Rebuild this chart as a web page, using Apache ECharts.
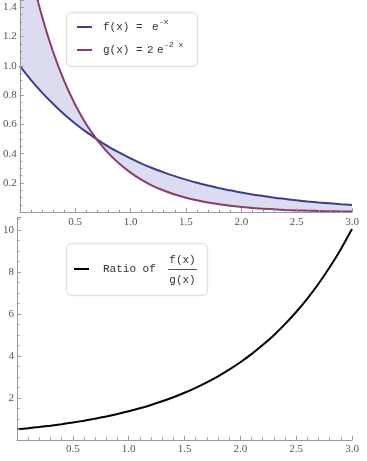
<!DOCTYPE html>
<html><head><meta charset="utf-8">
<script src="https://cdn.jsdelivr.net/npm/echarts@6/dist/echarts.min.js"></script>
<style>html,body{margin:0;padding:0;background:#fff}#c{width:367px;height:461px}</style>
</head><body><div id="c"></div>
<script>
// x samples
const xs = [0,0.1,0.2,0.3,0.4,0.5,0.6,0.69,0.7,0.8,0.9,1.0,1.1,1.2,1.3,1.4,1.5,1.6,1.7,1.8,1.9,2.0,2.1,2.2,2.3,2.4,2.5,2.6,2.7,2.8,2.9,3.0];
// f(x) = e^-x
const fVals = [1.000,0.905,0.819,0.741,0.670,0.607,0.549,0.502,0.497,0.449,0.407,0.368,0.333,0.301,0.273,0.247,0.223,0.202,0.183,0.165,0.150,0.135,0.122,0.111,0.100,0.091,0.082,0.074,0.067,0.061,0.055,0.050];
// g(x) = 2 e^-2x
const gVals = [2.000,1.637,1.341,1.098,0.899,0.736,0.602,0.503,0.493,0.404,0.331,0.271,0.222,0.181,0.149,0.122,0.100,0.082,0.067,0.055,0.045,0.037,0.030,0.025,0.020,0.016,0.013,0.011,0.009,0.007,0.006,0.005];
// ratio f/g
const rVals = [0.500,0.553,0.611,0.675,0.746,0.824,0.911,0.997,1.007,1.113,1.230,1.359,1.502,1.660,1.835,2.028,2.241,2.477,2.737,3.025,3.343,3.695,4.083,4.513,4.987,5.512,6.091,6.732,7.439,8.222,9.086,10.043];
const xTicks = [0.5,1.0,1.5,2.0,2.5,3.0];
const yTopTicks = [0.2,0.4,0.6,0.8,1.0,1.2,1.4];
const yBotTicks = [2,4,6,8,10];

const pairs = (ys) => xs.map((x,i)=>[x, ys[i]]);
const lowVals = fVals.map((f,i)=>Math.min(f,gVals[i]));
const highVals = fVals.map((f,i)=>Math.max(f,gVals[i]));

const labelFont = {fontFamily:'Liberation Serif', fontSize:11, color:'#555'};
const axCol = '#999';
function xAxisDef(gi){
  return {type:'value', gridIndex:gi, min:0, max:3, interval:0.5, z:10,
    axisLine:{show:true, onZero:false, lineStyle:{color:axCol,width:1}},
    axisTick:{show:true, inside:true, length:4, lineStyle:{color:axCol}},
    minorTick:{show:true, splitNumber:5, length:2.5, lineStyle:{color:axCol}},
    splitLine:{show:false},
    axisLabel:Object.assign({margin:4, formatter:(v)=> xTicks.some(t=>Math.abs(t-v)<1e-6)? v.toFixed(1):''}, labelFont)};
}
const mono = 'Liberation Mono';
const txtCol = '#333';
function t(x,y,text,size,extra){
  return Object.assign({type:'text', x:x, y:y, style:{text:text, font:(size||11)+'px "'+mono+'"', fill:txtCol, verticalAlign:'middle', align:'left'}}, extra||{});
}
const chart = echarts.init(document.getElementById('c'), null, {renderer:'canvas'});
chart.setOption({
  animation:false,
  grid:[{left:15.5, right:15, top:0, height:212.3},
        {left:15.5, right:15, top:217.4, height:222.4}],
  xAxis:[xAxisDef(0), xAxisDef(1)],
  yAxis:[
    {type:'value', gridIndex:0, min:0, max:1.45, interval:0.2, z:10,
     axisLine:{show:true, lineStyle:{color:axCol}},
     axisTick:{show:true, inside:true, length:4, lineStyle:{color:axCol}},
     minorTick:{show:true, splitNumber:4, length:2.5, lineStyle:{color:axCol}},
     splitLine:{show:false},
     axisLabel:Object.assign({margin:3, formatter:(v)=> yTopTicks.some(t=>Math.abs(t-v)<1e-6)? v.toFixed(1):''}, labelFont)},
    {type:'value', gridIndex:1, min:0, max:10.6, interval:2, z:10,
     axisLine:{show:true, lineStyle:{color:axCol}},
     axisTick:{show:true, inside:true, length:4, lineStyle:{color:axCol}},
     minorTick:{show:true, splitNumber:4, length:2.5, lineStyle:{color:axCol}},
     splitLine:{show:false},
     axisLabel:Object.assign({margin:3, formatter:(v)=> yBotTicks.includes(v)? String(v):''}, labelFont)}
  ],
  series:[
    {type:'line', xAxisIndex:0, yAxisIndex:0, data:pairs(highVals), smooth:0.3, showSymbol:false, silent:true,
     lineStyle:{opacity:0}, areaStyle:{color:'#dcdcf0', opacity:1}, z:1},
    {type:'line', xAxisIndex:0, yAxisIndex:0, data:pairs(lowVals), smooth:0.3, showSymbol:false, silent:true,
     lineStyle:{opacity:0}, areaStyle:{color:'#ffffff', opacity:1}, z:1},
    {type:'line', xAxisIndex:0, yAxisIndex:0, data:pairs(fVals), smooth:0.3, showSymbol:false,
     lineStyle:{color:'#3d3d94', width:2}, z:3},
    {type:'line', xAxisIndex:0, yAxisIndex:0, data:pairs(gVals), smooth:0.3, showSymbol:false,
     lineStyle:{color:'#8e3a6a', width:2}, z:3},
    {type:'line', xAxisIndex:1, yAxisIndex:1, data:pairs(rVals), smooth:0.3, showSymbol:false,
     lineStyle:{color:'#000', width:2}, z:3}
  ],
  graphic:[
    {type:'rect', shape:{x:66.5, y:12.5, width:131, height:54, r:5}, style:{fill:'#fff', stroke:'#dedede', lineWidth:1, shadowBlur:2, shadowColor:'rgba(0,0,0,0.08)'}, z:10},
    {type:'line', shape:{x1:77, y1:27, x2:92, y2:27}, style:{stroke:'#3d3d94', lineWidth:2}, z:11},
    t(103,27,'f(x)',11,{z:11}), t(136,27,'=',11,{z:11}), t(152,27,'e',11,{z:11}), t(159,22,'-x',8,{z:11}),
    {type:'line', shape:{x1:77, y1:50, x2:92, y2:50}, style:{stroke:'#8e3a6a', lineWidth:2}, z:11},
    t(103,50,'g(x)',11,{z:11}), t(136,50,'=',11,{z:11}), t(147,50,'2',11,{z:11}), t(157,50,'e',11,{z:11}), t(164,45,'-2 x',8,{z:11}),

    {type:'rect', shape:{x:66.5, y:243.5, width:141, height:52, r:5}, style:{fill:'#fff', stroke:'#dedede', lineWidth:1, shadowBlur:2, shadowColor:'rgba(0,0,0,0.08)'}, z:10},
    {type:'line', shape:{x1:74, y1:269, x2:89, y2:269}, style:{stroke:'#000', lineWidth:2}, z:11},
    t(103,269,'Ratio of',11,{z:11}),
    {type:'text', x:182.5, y:260, style:{text:'f(x)', font:'11px "'+mono+'"', fill:txtCol, align:'center', verticalAlign:'middle'}, z:11},
    {type:'line', shape:{x1:168, y1:269.5, x2:197, y2:269.5}, style:{stroke:'#555', lineWidth:1}, z:11},
    {type:'text', x:182.5, y:280, style:{text:'g(x)', font:'11px "'+mono+'"', fill:txtCol, align:'center', verticalAlign:'middle'}, z:11}
  ]
});
</script></body></html>
